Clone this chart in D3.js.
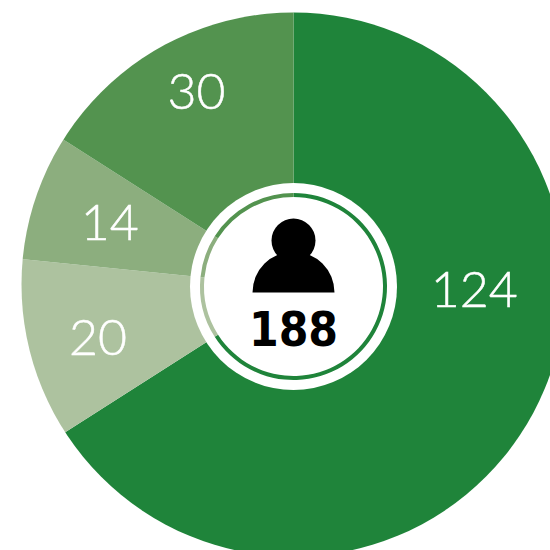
<!DOCTYPE html>
<html>
<head>
<meta charset="utf-8">
<script src="https://cdn.jsdelivr.net/npm/d3@7"></script>
<style>
    html, body { margin: 0; padding: 0; background: #fff; overflow: hidden; }
    svg { display: block; }
</style>
</head>
<body>
<svg id="chart" width="550" height="550"></svg>
<script>
// Values, clockwise from 12 o'clock
const values = [124, 20, 14, 30];
const sliceColors = ['#1f843a', '#adc29f', '#8cae7e', '#53934f'];
const total = 188;

/**
 * Visual configs.
 */
const cx = 293.5, cy = 286.5, // Centre of the badge, the slices meet here
    outlineCy = 284.5, // The outer edge of the pie sits a little higher
    outerRadius = 272,
    holeRadius = 103.5,
    ringRadius = 93.5,
    innerRadius = 89.5,
    labelRadius = 205;

// Nudges away from the slice middle, the big slice label sits nearly level with the centre
const labelNudge = [[1, -96], [4, 3], [10, 3], [1.5, -16]];

const svg = d3.select('#chart');

svg.append('clipPath').attr('id', 'pie-outline')
  .append('circle')
    .attr('cx', 0)
    .attr('cy', outlineCy - cy)
    .attr('r', outerRadius);

const g = svg.append('g').attr('transform', 'translate(' + cx + ',' + cy + ')');

const pie = d3.pie().sort(null).value(d => d);
const slices = pie(values);

const outerArc = d3.arc().innerRadius(0).outerRadius(outerRadius + 10);
const ringArc = d3.arc().innerRadius(innerRadius).outerRadius(ringRadius);
const labelArc = d3.arc().innerRadius(labelRadius).outerRadius(labelRadius);

g.append('g').attr('clip-path', 'url(#pie-outline)')
    .selectAll('.slice').data(slices).enter().append('path')
    .attr('class', 'slice')
    .attr('d', outerArc)
    .attr('fill', (d, i) => sliceColors[i]);

g.selectAll('.label').data(slices).enter().append('text')
    .attr('class', 'label')
    .attr('transform', (d, i) => {
        const c = labelArc.centroid(d);
        return 'translate(' + (c[0] + labelNudge[i][0]) + ',' + (c[1] + labelNudge[i][1]) + ')';
    })
    .attr('text-anchor', 'middle')
    .attr('dy', '0.36em')
    .attr('fill', '#fff')
    .attr('stroke', '#fff')
    .attr('stroke-width', 0.5)
    .style('font-family', 'Lato, sans-serif')
    .style('font-weight', 300)
    .style('font-size', '50px')
    .text(d => d.value);

// White hole, then the thin ring repeating the slices
g.append('circle').attr('r', holeRadius).attr('fill', '#fff');

g.selectAll('.ring').data(slices).enter().append('path')
    .attr('class', 'ring')
    .attr('d', ringArc)
    .attr('fill', (d, i) => sliceColors[i]);

// Person icon
const icon = g.append('g').attr('fill', '#000');
icon.append('circle').attr('cx', 0).attr('cy', -46).attr('r', 22);
icon.append('path').attr('d', 'M-41,6A41,41 0 0,1 41,6Z');

g.append('text')
    .attr('x', 0)
    .attr('y', 59.5)
    .attr('text-anchor', 'middle')
    .attr('fill', '#000')
    .style('font-family', '"DejaVu Sans", sans-serif')
    .style('font-stretch', 'condensed')
    .style('font-weight', 700)
    .style('font-size', '47.5px')
    .text(total);
</script>
</body>
</html>
